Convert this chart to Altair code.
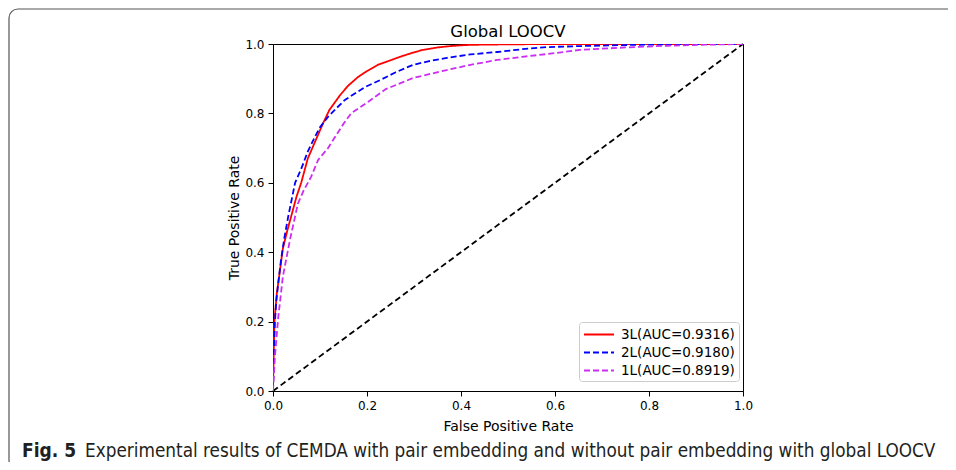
import altair as alt
import pandas as pd

# ---- data ----
labels = ["3L(AUC=0.9316)", "2L(AUC=0.9180)", "1L(AUC=0.8919)"]
colors = ["#ff0000", "#0000ff", "#cc2df2"]

fpr_3L = [0, 0.003, 0.008, 0.014, 0.021, 0.03, 0.038, 0.05, 0.06, 0.074, 0.09, 0.106, 0.12,
          0.143, 0.16, 0.181, 0.2, 0.223, 0.25, 0.27, 0.3, 0.319, 0.35, 0.377, 0.41, 0.44,
          0.5, 0.6, 1.0]
tpr_3L = [0, 0.2, 0.28, 0.34, 0.41, 0.46, 0.50, 0.56, 0.60, 0.67, 0.72, 0.77, 0.81,
          0.853, 0.88, 0.905, 0.922, 0.94, 0.953, 0.963, 0.976, 0.983, 0.99, 0.994, 0.997, 0.998,
          0.999, 1.0, 1.0]

fpr_2L = [0, 0.002, 0.004, 0.007, 0.012, 0.017, 0.024, 0.032, 0.047, 0.06, 0.074, 0.089, 0.1,
          0.117, 0.135, 0.153, 0.175, 0.196, 0.228, 0.26, 0.298, 0.33, 0.37, 0.42, 0.477,
          0.53, 0.583, 0.653, 0.75, 0.838, 0.9, 1.0]
tpr_2L = [0, 0.12, 0.196, 0.26, 0.32, 0.377, 0.44, 0.50, 0.60, 0.64, 0.69, 0.732, 0.76,
          0.79, 0.815, 0.839, 0.858, 0.876, 0.896, 0.918, 0.94, 0.95, 0.96, 0.97, 0.977,
          0.985, 0.991, 0.994, 0.997, 0.999, 1.0, 1.0]

fpr_1L = [0, 0.002, 0.004, 0.011, 0.021, 0.036, 0.053, 0.066, 0.081, 0.096, 0.117, 0.132, 0.15,
          0.166, 0.202, 0.24, 0.298, 0.37, 0.42, 0.477, 0.53, 0.583, 0.653, 0.75, 0.838,
          0.92, 1.0]
tpr_1L = [0, 0.05, 0.098, 0.21, 0.33, 0.435, 0.54, 0.58, 0.617, 0.666, 0.70, 0.732, 0.77,
          0.80, 0.833, 0.870, 0.902, 0.925, 0.94, 0.954, 0.963, 0.971, 0.983, 0.99, 0.995,
          0.998, 1.0]

diag_x = [0, 1]
diag_y = [0, 1]

ticks = [0.0, 0.2, 0.4, 0.6, 0.8, 1.0]

title_text = "Global LOOCV"
x_title = "False Positive Rate"
y_title = "True Positive Rate"
caption_bold = "Fig. 5"
caption_text = "Experimental results of CEMDA with pair embedding and without pair embedding with global LOOCV"

# ---- build tables ----
rows = []
for lab, fx, ty in zip(labels, [fpr_3L, fpr_2L, fpr_1L], [tpr_3L, tpr_2L, tpr_1L]):
    for i, (a, b) in enumerate(zip(fx, ty)):
        rows.append({"series": lab, "fpr": a, "tpr": b, "order": i})
df = pd.DataFrame(rows)
diag = pd.DataFrame({"fpr": diag_x, "tpr": diag_y})
txt = pd.DataFrame({"title": [title_text], "a": [caption_bold], "b": [caption_text]})

FONT = "DejaVu Sans"
CAPFONT = "DejaVu Sans Condensed, Liberation Sans Narrow, Liberation Sans"

xenc = alt.X("fpr:Q", scale=alt.Scale(domain=[0, 1], nice=False),
             axis=alt.Axis(title=x_title, values=ticks, format=".1f", labelFlush=False))
yenc = alt.Y("tpr:Q", scale=alt.Scale(domain=[0, 1], nice=False),
             axis=alt.Axis(title=y_title, values=ticks, format=".1f", labelFlush=False))

leg = dict(title=None, orient="none", legendX=306, legendY=278,
           symbolType="M-1,0H3", symbolSize=225, symbolStrokeWidth=1.8,
           labelFont=FONT, labelFontSize=13.5, labelColor="#000",
           rowPadding=3, padding=4, strokeColor="#cccccc",
           fillColor="#ffffff", cornerRadius=3, labelOffset=21)

curves = alt.Chart(df).mark_line(strokeWidth=1.8, clip=True).encode(
    x=xenc,
    y=yenc,
    order="order:Q",
    color=alt.Color("series:N", scale=alt.Scale(domain=labels, range=colors),
                    legend=alt.Legend(**leg)),
    strokeDash=alt.StrokeDash("series:N",
                              scale=alt.Scale(domain=labels, range=[[1, 0], [6, 3], [6, 3]]),
                              legend=alt.Legend(**leg)),
)

diag_line = alt.Chart(diag).mark_line(color="#000000", strokeWidth=1.8, strokeDash=[6, 3.5]).encode(
    x="fpr:Q", y="tpr:Q"
)

title_mark = alt.Chart(txt).mark_text(font=FONT, fontSize=16.5, align="center",
                                      baseline="alphabetic", color="#000").encode(
    x=alt.value(235), y=alt.value(-7), text="title:N")

cap1 = alt.Chart(txt).mark_text(font=CAPFONT, fontSize=19, fontWeight="bold",
                                align="left", baseline="alphabetic", color="#231f20").encode(
    x=alt.value(-251), y=alt.value(413), text="a:N")
cap2 = alt.Chart(txt).mark_text(font=CAPFONT, fontSize=18.8,
                                align="left", baseline="alphabetic", color="#231f20").encode(
    x=alt.value(-188), y=alt.value(413), text="b:N")

border = alt.Chart(txt).mark_rect(fill="transparent", stroke="#555555", strokeWidth=1.2,
                                  cornerRadius=9).encode(
    x=alt.value(-264), x2=alt.value(720), y=alt.value(-35), y2=alt.value(425))

chart = alt.layer(border, diag_line, curves, title_mark, cap1, cap2).properties(
    width=470, height=347,
    autosize=alt.AutoSizeParams(type="none"),
    padding={"left": 265, "top": 36, "right": 205, "bottom": 71},
).configure_view(stroke="#000000", strokeWidth=1).configure_axis(
    domainColor="#000", domainWidth=1, tickColor="#000", tickSize=5, tickWidth=1,
    labelFont=FONT, labelFontSize=12, labelColor="#000", labelPadding=4,
    titleFont=FONT, titleFontSize=14, titleFontWeight="normal", titleColor="#000",
    grid=False,
).configure_axisX(titlePadding=8).configure_axisY(titlePadding=3)

chart.save("out.html", embed_options={"renderer": "svg", "actions": False})
